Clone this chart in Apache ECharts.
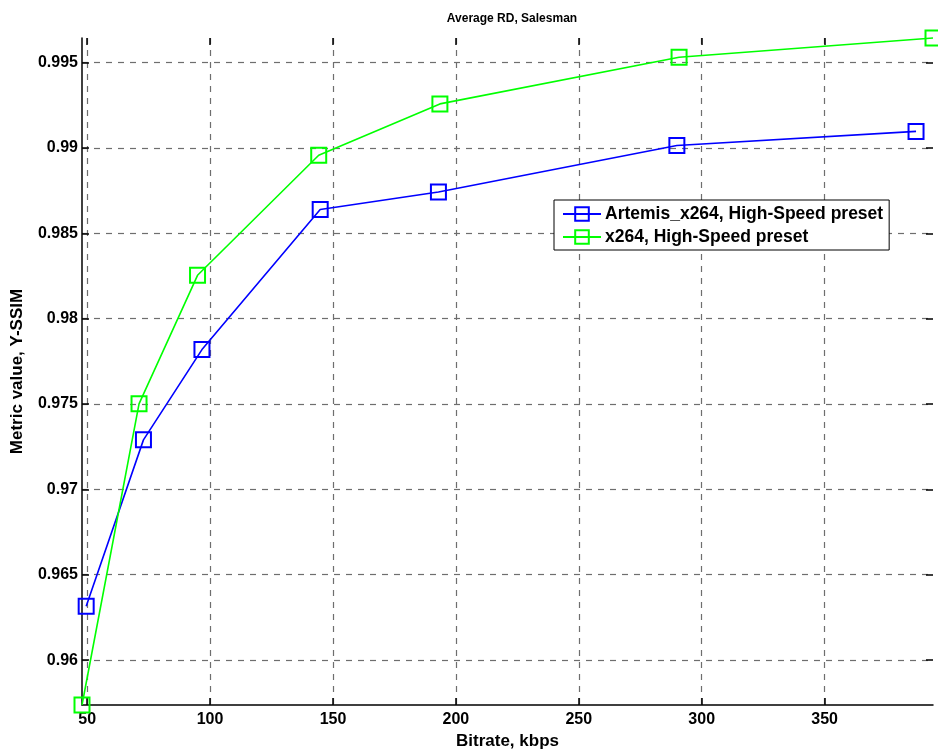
<!DOCTYPE html>
<html><head><meta charset="utf-8">
<script src="https://cdn.jsdelivr.net/npm/echarts@6/dist/echarts.min.js"></script>
<style>html,body{margin:0;padding:0;background:#fff}#c{width:938px;height:749px}</style>
</head><body><div id="c"></div>
<script>
const chartTitle = 'Average RD, Salesman';
const xName = 'Bitrate, kbps';
const yName = 'Metric value, Y-SSIM';
const seriesNames = ['Artemis_x264, High-Speed preset', 'x264, High-Speed preset'];
const artemisBitrate = [49.6, 72.9, 96.7, 144.8, 192.9, 289.9, 387.2];
const artemisSSIM = [0.96316, 0.97290, 0.97819, 0.98639, 0.98742, 0.99014, 0.99097];
const x264Bitrate = [47.9, 71.1, 94.9, 144.2, 193.5, 290.8, 394.1];
const x264SSIM = [0.95737, 0.97501, 0.98254, 0.98957, 0.99258, 0.99531, 0.99644];
const xTicks = [50, 100, 150, 200, 250, 300, 350];
const yTicks = [0.96, 0.965, 0.97, 0.975, 0.98, 0.985, 0.99, 0.995];
const yTickLabels = ['0.96', '0.965', '0.97', '0.975', '0.98', '0.985', '0.99', '0.995'];
const xRange = [47.9, 394.1];
const yRange = [0.95737, 0.99644];

const FONT = "'Liberation Sans', Arial, sans-serif";
const chart = echarts.init(document.getElementById('c'), null, {renderer: 'canvas'});
const pairs = (xs, ys) => xs.map((x, i) => [x, ys[i]]);
const tickStyle = {show: true, inside: true, length: 7, lineStyle: {color: '#000', width: 1.5}};
const gridStyle = {show: true, lineStyle: {color: '#6e6e6e', type: [6, 6], width: 1.2}};
const labelFont = {color: '#000', fontFamily: FONT, fontWeight: 'bold', fontSize: 16};

chart.setOption({
  animation: false,
  backgroundColor: '#fff',
  title: {
    text: chartTitle, left: 507, top: 8, textAlign: 'center',
    textStyle: {fontFamily: FONT, fontWeight: 'bold', fontSize: 12, color: '#000'}
  },
  grid: {left: 82, right: 5, top: 38, bottom: 44, containLabel: false, outerBoundsMode: 'none'},
  legend: {
    left: 554, top: 200, orient: 'vertical',
    backgroundColor: '#fff', borderColor: '#000', borderWidth: 1,
    padding: [5, 6, 4, 8], itemGap: 5, itemWidth: 38, itemHeight: 17,
    textStyle: {fontFamily: FONT, fontWeight: 'bold', fontSize: 17.5, color: '#000', padding: [0, 0, 0, -1]},
    data: seriesNames
  },
  xAxis: [{
    type: 'value', min: xRange[0], max: xRange[1], position: 'bottom',
    name: xName, nameLocation: 'middle', nameGap: 18,
    nameTextStyle: {fontFamily: FONT, fontWeight: 'bold', fontSize: 17, color: '#000'},
    axisLine: {show: true, lineStyle: {color: '#000', width: 1.5}},
    axisTick: Object.assign({customValues: xTicks}, tickStyle),
    axisLabel: Object.assign({customValues: xTicks, margin: 7}, labelFont),
    splitLine: gridStyle
  }, {
    type: 'value', min: xRange[0], max: xRange[1], position: 'top',
    axisLine: {show: false},
    axisTick: Object.assign({customValues: xTicks}, tickStyle),
    axisLabel: {show: false},
    splitLine: {show: false}
  }],
  yAxis: [{
    type: 'value', min: yRange[0], max: yRange[1], position: 'left',
    name: yName, nameLocation: 'middle', nameGap: 56,
    nameTextStyle: {fontFamily: FONT, fontWeight: 'bold', fontSize: 17, color: '#000'},
    axisLine: {show: true, lineStyle: {color: '#000', width: 1.5}},
    axisTick: Object.assign({customValues: yTicks}, tickStyle),
    axisLabel: Object.assign({customValues: yTicks, margin: 4,
      formatter: v => { const i = yTicks.findIndex(t => Math.abs(t - v) < 1e-9); return i >= 0 ? yTickLabels[i] : ''; }
    }, labelFont),
    splitLine: gridStyle
  }, {
    type: 'value', min: yRange[0], max: yRange[1], position: 'right',
    axisLine: {show: false},
    axisTick: Object.assign({customValues: yTicks}, tickStyle),
    axisLabel: {show: false},
    splitLine: {show: false}
  }],
  series: [{
    name: seriesNames[0], type: 'line', data: pairs(artemisBitrate, artemisSSIM),
    symbol: 'rect', symbolSize: 15,
    lineStyle: {color: '#0000ff', width: 1.6},
    itemStyle: {color: 'rgba(0,0,0,0)', borderColor: '#0000ff', borderWidth: 2},
    clip: false, z: 3
  }, {
    name: seriesNames[1], type: 'line', data: pairs(x264Bitrate, x264SSIM),
    symbol: 'rect', symbolSize: 15,
    lineStyle: {color: '#00ff00', width: 1.6},
    itemStyle: {color: 'rgba(0,0,0,0)', borderColor: '#00ff00', borderWidth: 2},
    clip: false, z: 3
  }]
});
</script></body></html>
